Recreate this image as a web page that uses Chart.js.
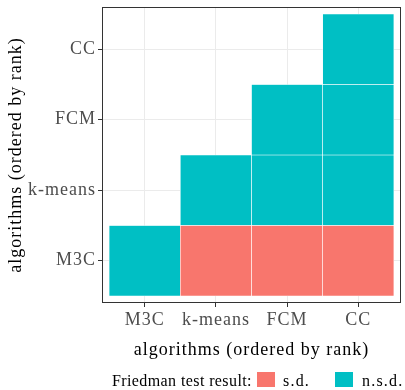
<!DOCTYPE html>
<html>
<head>
<meta charset="utf-8">
<script src="https://cdn.jsdelivr.net/npm/chart.js@4/dist/chart.umd.min.js"></script>
<style>
  html, body { margin: 0; padding: 0; background: #fff; }
  #wrap { position: relative; width: 405px; height: 390px; overflow: hidden; }
  #c { position: absolute; left: 0; top: 0; }
  .lg { position: absolute; font-family: 'Liberation Serif', serif; font-size: 16px; color: #000; white-space: nowrap; line-height: 1; letter-spacing: 0.4px; }
  .sw { position: absolute; width: 18px; height: 15px; }
</style>
</head>
<body>
<div id="wrap">
  <canvas id="c" width="405" height="390"></canvas>
  <div class="lg" id="lgTitle" style="left:112px; top:373px;"></div>
  <div class="sw" id="sw0" style="left:257px; top:372px;"></div>
  <div class="lg" id="lg0" style="left:283px; top:373px; letter-spacing:1.2px;"></div>
  <div class="sw" id="sw1" style="left:335px; top:372px;"></div>
  <div class="lg" id="lg1" style="left:362px; top:373px; letter-spacing:1.2px;"></div>
</div>
<script>
// ---- data ----
const algorithms = ['M3C', 'k-means', 'FCM', 'CC'];
const colAlg = ['M3C', 'k-means', 'k-means', 'FCM', 'FCM', 'FCM', 'CC', 'CC', 'CC', 'CC'];
const rowAlg = ['M3C', 'M3C', 'k-means', 'M3C', 'k-means', 'FCM', 'M3C', 'k-means', 'FCM', 'CC'];
const result = ['n.s.d.', 's.d.', 'n.s.d.', 's.d.', 'n.s.d.', 'n.s.d.', 's.d.', 'n.s.d.', 'n.s.d.', 'n.s.d.'];
const resultLevels = ['s.d.', 'n.s.d.'];
const legendTitle = 'Friedman test result:';
const axisTitle = 'algorithms (ordered by rank)';

const levelColors = { 's.d.': '#F8766D', 'n.s.d.': '#00BFC4' };

const datasets = resultLevels.map(level => ({
  label: level,
  backgroundColor: levelColors[level],
  borderColor: '#ffffff',
  borderWidth: 0.6,
  borderSkipped: false,
  grouped: false,
  barPercentage: 1,
  categoryPercentage: 1,
  data: result.map((r, i) => r === level ? {
    x: algorithms.indexOf(colAlg[i]) + 1,
    y: [algorithms.indexOf(rowAlg[i]) + 0.5, algorithms.indexOf(rowAlg[i]) + 1.5]
  } : null).filter(d => d !== null)
}));

// HTML legend
document.getElementById('lgTitle').textContent = legendTitle;
resultLevels.forEach((lv, i) => {
  document.getElementById('sw' + i).style.background = levelColors[lv];
  document.getElementById('lg' + i).textContent = lv;
});

const FONT = "'Liberation Serif', serif";
const tickVals = algorithms.map((a, i) => i + 1);

const spacing = {
  id: 'spacing',
  beforeLayout(chart) { chart.ctx.letterSpacing = '1px'; },
  beforeDraw(chart) { chart.ctx.letterSpacing = '1px'; }
};

const panelBorder = {
  id: 'panelBorder',
  afterDraw(chart) {
    const { ctx, chartArea: a } = chart;
    ctx.save();
    ctx.strokeStyle = '#333333';
    ctx.lineWidth = 1;
    ctx.strokeRect(Math.round(a.left) + 0.5, Math.round(a.top) + 0.5, Math.round(a.right - a.left) - 1, Math.round(a.bottom - a.top) - 1);
    ctx.restore();
  }
};

const axisCommon = (title) => ({
  type: 'linear',
  min: 0.4,
  max: 4.6,
  offset: false,
  afterBuildTicks: (s) => { s.ticks = tickVals.map(v => ({ value: v })); },
  grid: {
    offset: false,
    color: '#EBEBEB',
    lineWidth: 1,
    drawTicks: true,
    tickLength: 4,
    tickColor: '#333333'
  },
  border: { display: false },
  ticks: {
    color: '#4D4D4D',
    font: { family: FONT, size: 18 },
    padding: 2,
    autoSkip: false,
    maxRotation: 0,
    callback: (v) => algorithms[v - 1] || ''
  },
  title: {
    display: true,
    text: title,
    color: '#000',
    font: { family: FONT, size: 18 },
  }
});

const xScale = axisCommon(axisTitle);
xScale.title.padding = { top: 0, bottom: 28.6 };
xScale.afterFit = (s) => { s.height = 87; s.paddingLeft = 0; s.paddingRight = 0; };
const yScale = axisCommon(axisTitle);
yScale.title.padding = { top: 5, bottom: 0 };
yScale.afterFit = (s) => { s.width = 102; s.paddingTop = 0; s.paddingBottom = 0; };

new Chart(document.getElementById('c'), {
  type: 'bar',
  data: { datasets },
  options: {
    responsive: false,
    animation: false,
    devicePixelRatio: 1,
    layout: { padding: { top: 7, right: 4, left: 0, bottom: 0 } },
    plugins: { legend: { display: false }, tooltip: { enabled: false } },
    scales: { x: xScale, y: yScale }
  },
  plugins: [spacing, panelBorder]
});
</script>
</body>
</html>
